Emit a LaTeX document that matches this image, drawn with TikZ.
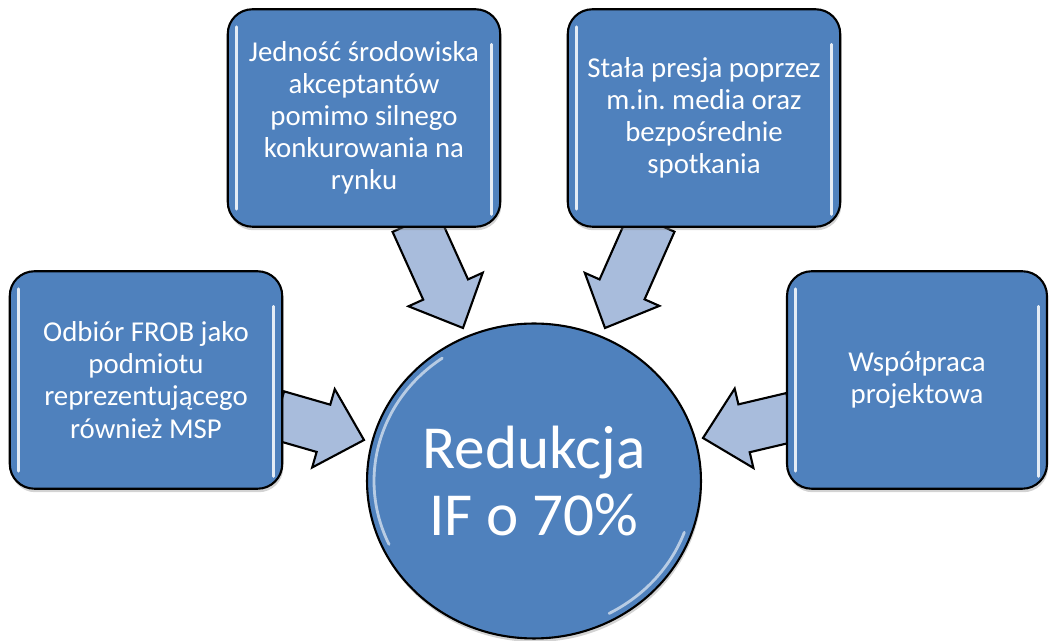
\documentclass[tikz,border=0pt]{standalone}
\usepackage{fontspec}
\setmainfont{Carlito}
\frenchspacing
\usetikzlibrary{calc,shapes.geometric,shadows,backgrounds}
\definecolor{boxblue}{RGB}{79,129,189}
\definecolor{arrowblue}{RGB}{168,188,220}
\tikzstyle{every node}=[thick]
\tikzstyle{gloss}=[draw=white, opacity=0.85, line width=1.6pt, line cap=round]
\tikzstyle{topic}=[draw=black, line width=1.2pt, fill=boxblue, rounded corners=14pt,
  text=white, align=center, font=\fontsize{16.4}{18.3}\selectfont,
  minimum width=5.45cm, minimum height=4.35cm,
  drop shadow={shadow xshift=0.6pt, shadow yshift=-2pt, opacity=0.35},
  path picture={
    \draw[gloss] ([xshift=5pt,yshift=-10pt]path picture bounding box.north west) -- ([xshift=5pt,yshift=10pt]path picture bounding box.south west);
    \draw[gloss] ([xshift=-5pt,yshift=-20pt]path picture bounding box.north east) -- ([xshift=-5pt,yshift=7pt]path picture bounding box.south east);}]
\tikzstyle{goal}=[ellipse, draw=black, line width=1.2pt, fill=boxblue, inner sep=0pt,
  text=white, align=center, font=\fontsize{34.8}{38}\selectfont,
  minimum width=6.68cm, minimum height=6.3cm,
  drop shadow={shadow xshift=0.6pt, shadow yshift=-2pt, opacity=0.35},
  path picture={
    \draw[gloss, opacity=0.6] ([shift={(125:3.2cm and 3.0cm)}]path picture bounding box.center) arc[start angle=125, end angle=205, x radius=3.2cm, y radius=3.0cm];
    \draw[gloss, opacity=0.6] ([shift={(-20:3.2cm and 3.0cm)}]path picture bounding box.center) arc[start angle=-20, end angle=-62, x radius=3.2cm, y radius=3.0cm];}]
\tikzstyle{flow}=[draw=black, line width=1.2pt, fill=arrowblue, line join=miter]
\newcommand\shafthw{14pt}
\newcommand\headhw{23.2pt}
\newcommand\headlen{24pt}
\newcommand\flowarrow[2]{%
  \draw[flow] let \p1=($(#2)-(#1)$), \n1={atan2(\y1,\x1)}, \n2={veclen(\x1,\y1)-\headlen} in
    ($(#1)+(\n1+90:\shafthw)$) -- ($(#1)+(\n1:\n2)+(\n1+90:\shafthw)$)
    -- ($(#1)+(\n1:\n2)+(\n1+90:\headhw)$) -- (#2)
    -- ($(#1)+(\n1:\n2)+(\n1-90:\headhw)$) -- ($(#1)+(\n1:\n2)+(\n1-90:\shafthw)$)
    -- ($(#1)+(\n1-90:\shafthw)$) -- cycle;}

\begin{document}
\begin{tikzpicture}[x=0.02cm,y=-0.02cm]
\useasboundingbox (0,0) rectangle (1049,641);

\node[goal] (redukcja) at (534,481) {Redukcja\\IF o 70\%};
\node[topic] (odbior) at (146,380) {Odbiór FROB jako\\podmiotu\\reprezentującego\\również MSP};
\node[topic] (jednosc) at (364,118) {Jedność środowiska\\akceptantów\\pomimo silnego\\konkurowania na\\rynku};
\node[topic] (presja) at (704,118) {Stała presja poprzez\\m.in. media oraz\\bezpośrednie\\spotkania};
\node[topic, minimum width=5.2cm] (wspolpraca) at (917,380) {Współpraca\\projektowa};

\coordinate (a1) at ($(odbior.east)+(-6,35)$);
\coordinate (t1) at ($(redukcja.center)+(-170,-41)$);
\coordinate (a2) at ($(jednosc.south)+(51,-6)$);
\coordinate (t2) at ($(redukcja.center)+(-71,-153)$);
\coordinate (a3) at ($(presja.south)+(-52,-6)$);
\coordinate (t3) at ($(redukcja.center)+(71,-153)$);
\coordinate (a4) at ($(wspolpraca.west)+(6,37)$);
\coordinate (t4) at ($(redukcja.center)+(169,-43)$);

\begin{pgfonlayer}{background}
\flowarrow{a1}{t1}
\flowarrow{a2}{t2}
\flowarrow{a3}{t3}
\flowarrow{a4}{t4}
\end{pgfonlayer}
\end{tikzpicture}
\end{document}
